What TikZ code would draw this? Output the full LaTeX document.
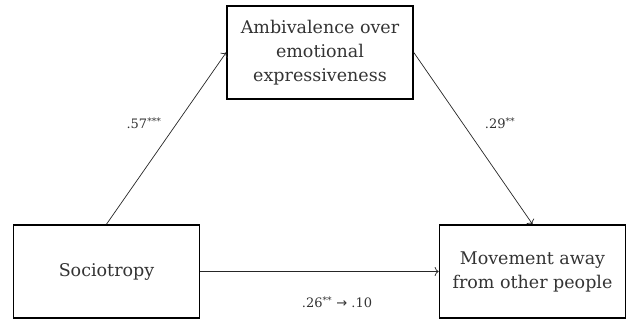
\documentclass[tikz,border=0pt]{standalone}
\usepackage{fontspec}
\usetikzlibrary{arrows.meta}
\setmainfont{DejaVu Serif}
\newfontfamily\symfont{DejaVu Sans}
\begin{document}
\begin{tikzpicture}[x=1pt,y=1pt,
  box/.style={draw, line width=1.6pt, minimum width=186pt, minimum height=93pt, align=center, inner sep=0pt, font=\fontsize{17.5}{24}\selectfont, text=black!80},
  conn/.style={-{To[length=4pt,width=9pt]}, line width=0.7pt, black!85},
  lbl/.style={font=\fontsize{13}{14}\selectfont, text=black!80}]
\useasboundingbox (0,0) rectangle (630,320);
\node[box] (T) at (320,267.5) {Ambivalence over\\emotional\\expressiveness};
\node[box] (L) at (106.5,48.5) {Sociotropy};
\node[box] (R) at (532.5,48.5) {Movement away\\from other people};
\draw[conn] (L.north) -- (T.west);
\draw[conn] (T.east) -- (R.north);
\draw[conn] (L.east) -- (R.west);
\node[lbl] (a) at (144,197) {.57\textsuperscript{***}};
\node[lbl] (b) at (500,197) {.29\textsuperscript{**}};
\node[lbl] (c) at (337,18) {.26\textsuperscript{**} {\symfont →} .10};
\end{tikzpicture}
\end{document}
